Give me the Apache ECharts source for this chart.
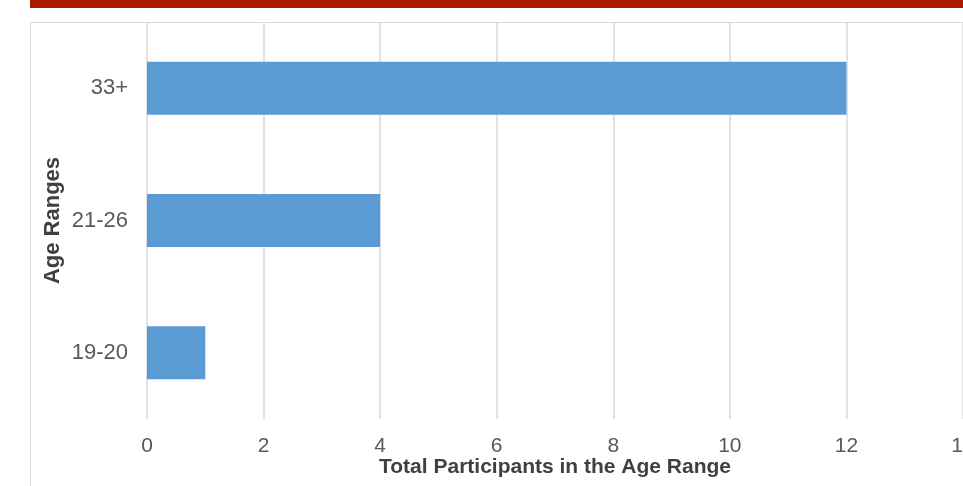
<!DOCTYPE html>
<html>
<head>
<meta charset="utf-8">
<script src="https://cdn.jsdelivr.net/npm/echarts@6/dist/echarts.min.js"></script>
<style>
  html, body { margin: 0; padding: 0; background: #fff; }
  #chart { width: 963px; height: 486px; }
</style>
</head>
<body>
<div id="chart"></div>
<script>
const ageRanges = ['19-20', '21-26', '33+']
const participants = [1, 4, 12]
const xTicks = { min: 0, max: 14, interval: 2 }

const chart = echarts.init(document.getElementById('chart'))
chart.setOption({
  backgroundColor: '#fff',
  animation: false,
  graphic: [
    { type: 'rect', shape: { x: 30, y: 0, width: 940, height: 8 }, style: { fill: '#a81a00' } },
    { type: 'rect', z: -1, shape: { x: 30.5, y: 22.5, width: 940, height: 480 },
      style: { fill: 'none', stroke: '#d9d9d9', lineWidth: 1 } },
  ],
  grid: { left: 147, right: 0, top: 22, bottom: 67, outerBoundsMode: 'none', containLabel: false },
  xAxis: {
    type: 'value',
    min: xTicks.min, max: xTicks.max, interval: xTicks.interval,
    name: 'Total Participants in the Age Range',
    nameLocation: 'middle',
    nameGap: 38,
    nameMoveOverlap: false,
    nameTextStyle: { fontFamily: 'Liberation Sans', fontSize: 21, fontWeight: 'bold', color: '#404040' },
    axisLine: { show: false },
    axisTick: { show: false },
    axisLabel: { fontFamily: 'Liberation Sans', fontSize: 21, color: '#595959', margin: 17 },
    splitLine: { lineStyle: { color: '#d9d9d9', width: 1.5 } },
  },
  yAxis: {
    type: 'category',
    data: ageRanges,
    name: 'Age Ranges',
    nameLocation: 'middle',
    nameGap: 83,
    nameMoveOverlap: false,
    nameTextStyle: { fontFamily: 'Liberation Sans', fontSize: 22, fontWeight: 'bold', color: '#404040' },
    axisLine: { show: false },
    axisTick: { show: false },
    axisLabel: { fontFamily: 'Liberation Sans', fontSize: 22, color: '#595959', margin: 19 },
  },
  series: [{
    type: 'bar',
    data: participants,
    barWidth: 53,
    itemStyle: { color: '#5b9bd5' },
  }],
})
</script>
</body>
</html>
